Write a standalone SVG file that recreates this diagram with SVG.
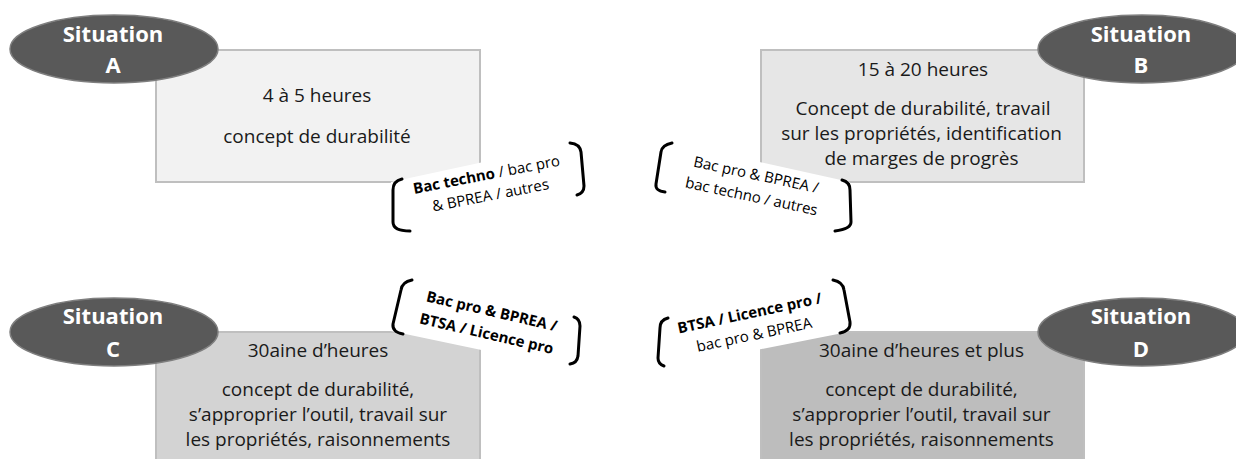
<svg xmlns="http://www.w3.org/2000/svg" width="1236" height="459" viewBox="0 0 1236 459">
<style>
.box{stroke:#bfbfbf;stroke-width:2}
.ell{fill:#595959;stroke:#7f7f7f;stroke-width:1.5}
.sit{font-family:"Open Sans","Liberation Sans",sans-serif;font-weight:bold;font-size:22px;fill:#ffffff;text-anchor:middle}
.t{font-family:"Open Sans","Liberation Sans",sans-serif;font-size:19px;fill:#1a1a1a;text-anchor:middle}
.lb{font-family:"Open Sans","Liberation Sans",sans-serif;font-size:15px;fill:#000000;text-anchor:middle}
.b{font-weight:bold}
.card{fill:#ffffff}
.br{fill:none;stroke:#000000;stroke-width:3;stroke-linecap:round;stroke-linejoin:round}
</style>
<rect width="1236" height="459" fill="#ffffff"/>
<g id="box-A"><rect class="box" x="156" y="50" width="324" height="132" fill="#f2f2f2"/>
<text class="t" x="317" y="102">4 à 5 heures</text>
<text class="t" x="317" y="143">concept de durabilité</text></g>
<g id="box-B"><rect class="box" x="761" y="50" width="323" height="132" fill="#e6e6e6"/>
<text class="t" x="923" y="76">15 à 20 heures</text>
<text class="t" x="923" y="115">Concept de durabilité, travail</text>
<text class="t" x="921.5" y="140">sur les propriétés, identification</text>
<text class="t" x="921.5" y="165">de marges de progrès</text></g>
<g id="box-C"><rect class="box" x="156" y="332" width="324" height="140" fill="#d3d3d3"/>
<text class="t" x="318" y="357">30aine d’heures</text>
<text class="t" x="318" y="396">concept de durabilité,</text>
<text class="t" x="318" y="421">s’approprier l’outil, travail sur</text>
<text class="t" x="318" y="446">les propriétés, raisonnements</text></g>
<g id="box-D"><rect class="box" x="761" y="332" width="323" height="140" fill="#bdbdbd"/>
<text class="t" x="921.5" y="357">30aine d’heures et plus</text>
<text class="t" x="921.5" y="396">concept de durabilité,</text>
<text class="t" x="921.5" y="421">s’approprier l’outil, travail sur</text>
<text class="t" x="921.5" y="446">les propriétés, raisonnements</text></g>
<g id="connectors"></g>
<g id="label-A"><polygon class="card" points="391,182 575,142 587,196 391,234"/>
<path class="br" d="M402,179 Q393,181 393,190 L393,222 Q393,231 410,231"/>
<path class="br" d="M570,143 Q580,144 581,152 L584,186 Q584,193 577,195"/>
<g transform="translate(489.5,190) rotate(-11)">
<text class="lb" x="0" y="-10.5"><tspan class="b">Bac techno</tspan> / bac pro</text>
<text class="lb" x="0" y="10.5">&amp; BPREA / autres</text></g></g>
<g id="label-B"><polygon class="card" points="660,140 850,182 853,233 654,192"/>
<path class="br" d="M672,143 Q662,145 661,152 L656,184 Q655,191 665,192"/>
<path class="br" d="M842,180 Q850,182 850,190 L851,222 Q851,229 835,231"/>
<g transform="translate(752.7,190.6) rotate(12)">
<text class="lb" x="0" y="-11">Bac pro &amp; BPREA /</text>
<text class="lb" x="0" y="11">bac techno / autres</text></g></g>
<g id="label-C"><polygon class="card" points="396,278 586,316 586,372 391,331"/>
<path class="br" d="M412,280 Q402,282 401,290 L393,324 Q392,332 403,334"/>
<path class="br" d="M574,317 Q580,319 580,326 L578,356 Q577,363 570,364"/>
<g transform="translate(488,327.5) rotate(13)">
<text class="lb b" x="0" y="-11.5">Bac pro &amp; BPREA /</text>
<text class="lb b" x="0" y="11.5">BTSA / Licence pro</text></g></g>
<g id="label-D"><polygon class="card" points="655,315 842,278 848,332 655,370"/>
<path class="br" d="M668,318 Q660,320 660,328 L658,358 Q658,364 664,366"/>
<path class="br" d="M833,280 Q843,282 844,290 L850,322 Q851,331 840,333"/>
<g transform="translate(753,329) rotate(-12)">
<text class="lb b" x="0" y="-11">BTSA / Licence pro /</text>
<text class="lb" x="0" y="11">bac pro &amp; BPREA</text></g></g>
<g id="situation-A"><ellipse class="ell" cx="114" cy="49" rx="104" ry="34"/>
<text class="sit" x="113" y="42">Situation</text><text class="sit" x="113" y="73">A</text></g>
<g id="situation-B"><ellipse class="ell" cx="1142" cy="49" rx="104" ry="34"/>
<text class="sit" x="1141" y="42">Situation</text><text class="sit" x="1141" y="73">B</text></g>
<g id="situation-C"><ellipse class="ell" cx="114" cy="332" rx="104" ry="34"/>
<text class="sit" x="113" y="324">Situation</text><text class="sit" x="113" y="357">C</text></g>
<g id="situation-D"><ellipse class="ell" cx="1142" cy="332" rx="104" ry="34"/>
<text class="sit" x="1141" y="324">Situation</text><text class="sit" x="1141" y="357">D</text></g>
</svg>
